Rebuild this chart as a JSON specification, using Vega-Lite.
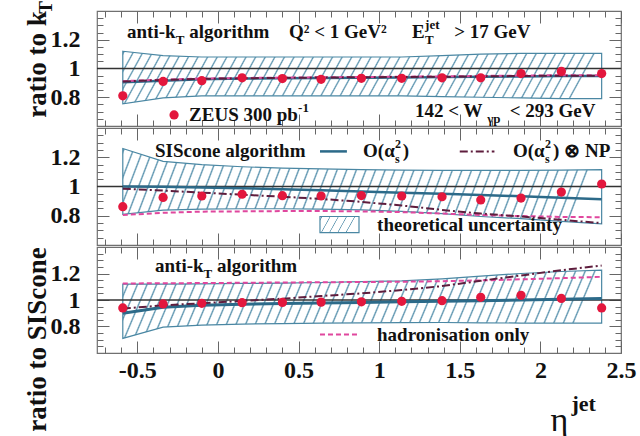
{
  "$schema": "https://vega.github.io/schema/vega-lite/v6.json",
  "padding": {"left": 22, "top": 0, "right": 2, "bottom": 2},
  "background": "white",
  "datasets": {
    "bins": [
      {"panel": 1, "eta": -0.59, "zeus": 0.81, "nlo": 0.905, "np": 0.91, "had": 0.912, "lo": 0.755, "hi": 1.12},
      {"panel": 1, "eta": -0.34, "zeus": 0.91, "nlo": 0.915, "np": 0.92, "had": 0.922, "lo": 0.795, "hi": 1.09},
      {"panel": 1, "eta": -0.10, "zeus": 0.915, "nlo": 0.925, "np": 0.928, "had": 0.93, "lo": 0.81, "hi": 1.08},
      {"panel": 1, "eta": 0.15, "zeus": 0.935, "nlo": 0.93, "np": 0.932, "had": 0.934, "lo": 0.81, "hi": 1.08},
      {"panel": 1, "eta": 0.40, "zeus": 0.93, "nlo": 0.932, "np": 0.935, "had": 0.937, "lo": 0.81, "hi": 1.08},
      {"panel": 1, "eta": 0.64, "zeus": 0.925, "nlo": 0.934, "np": 0.937, "had": 0.939, "lo": 0.81, "hi": 1.08},
      {"panel": 1, "eta": 0.89, "zeus": 0.932, "nlo": 0.936, "np": 0.939, "had": 0.941, "lo": 0.81, "hi": 1.08},
      {"panel": 1, "eta": 1.14, "zeus": 0.932, "nlo": 0.938, "np": 0.941, "had": 0.943, "lo": 0.81, "hi": 1.08},
      {"panel": 1, "eta": 1.39, "zeus": 0.935, "nlo": 0.94, "np": 0.943, "had": 0.945, "lo": 0.805, "hi": 1.09},
      {"panel": 1, "eta": 1.63, "zeus": 0.935, "nlo": 0.942, "np": 0.945, "had": 0.948, "lo": 0.80, "hi": 1.10},
      {"panel": 1, "eta": 1.88, "zeus": 0.965, "nlo": 0.945, "np": 0.948, "had": 0.951, "lo": 0.795, "hi": 1.105},
      {"panel": 1, "eta": 2.13, "zeus": 0.98, "nlo": 0.947, "np": 0.95, "had": 0.953, "lo": 0.79, "hi": 1.105},
      {"panel": 1, "eta": 2.38, "zeus": 0.965, "nlo": 0.948, "np": 0.95, "had": 0.953, "lo": 0.79, "hi": 1.105},
      {"panel": 2, "eta": -0.59, "zeus": 0.862, "nlo": 1.0, "np": 0.985, "had": 0.805, "lo": 0.81, "hi": 1.26},
      {"panel": 2, "eta": -0.34, "zeus": 0.925, "nlo": 0.998, "np": 0.972, "had": 0.82, "lo": 0.838, "hi": 1.172},
      {"panel": 2, "eta": -0.10, "zeus": 0.935, "nlo": 0.994, "np": 0.958, "had": 0.828, "lo": 0.845, "hi": 1.15},
      {"panel": 2, "eta": 0.15, "zeus": 0.947, "nlo": 0.988, "np": 0.944, "had": 0.83, "lo": 0.848, "hi": 1.135},
      {"panel": 2, "eta": 0.40, "zeus": 0.937, "nlo": 0.981, "np": 0.93, "had": 0.832, "lo": 0.848, "hi": 1.125},
      {"panel": 2, "eta": 0.64, "zeus": 0.935, "nlo": 0.974, "np": 0.915, "had": 0.832, "lo": 0.845, "hi": 1.12},
      {"panel": 2, "eta": 0.89, "zeus": 0.938, "nlo": 0.966, "np": 0.895, "had": 0.83, "lo": 0.84, "hi": 1.115},
      {"panel": 2, "eta": 1.14, "zeus": 0.935, "nlo": 0.958, "np": 0.87, "had": 0.825, "lo": 0.83, "hi": 1.112},
      {"panel": 2, "eta": 1.39, "zeus": 0.93, "nlo": 0.95, "np": 0.84, "had": 0.815, "lo": 0.815, "hi": 1.11},
      {"panel": 2, "eta": 1.63, "zeus": 0.908, "nlo": 0.942, "np": 0.815, "had": 0.805, "lo": 0.795, "hi": 1.11},
      {"panel": 2, "eta": 1.88, "zeus": 0.921, "nlo": 0.933, "np": 0.795, "had": 0.798, "lo": 0.78, "hi": 1.11},
      {"panel": 2, "eta": 2.13, "zeus": 0.962, "nlo": 0.923, "np": 0.772, "had": 0.792, "lo": 0.762, "hi": 1.112},
      {"panel": 2, "eta": 2.38, "zeus": 1.017, "nlo": 0.912, "np": 0.75, "had": 0.79, "lo": 0.745, "hi": 1.115},
      {"panel": 3, "eta": -0.59, "zeus": 0.94, "nlo": 0.9, "np": 0.935, "had": 1.125, "lo": 0.71, "hi": 1.12},
      {"panel": 3, "eta": -0.34, "zeus": 0.97, "nlo": 0.945, "np": 0.96, "had": 1.126, "lo": 0.795, "hi": 1.12},
      {"panel": 3, "eta": -0.10, "zeus": 0.975, "nlo": 0.96, "np": 0.975, "had": 1.128, "lo": 0.81, "hi": 1.122},
      {"panel": 3, "eta": 0.15, "zeus": 0.98, "nlo": 0.968, "np": 0.993, "had": 1.13, "lo": 0.818, "hi": 1.125},
      {"panel": 3, "eta": 0.40, "zeus": 0.982, "nlo": 0.974, "np": 1.01, "had": 1.132, "lo": 0.822, "hi": 1.128},
      {"panel": 3, "eta": 0.64, "zeus": 0.984, "nlo": 0.978, "np": 1.03, "had": 1.134, "lo": 0.826, "hi": 1.132},
      {"panel": 3, "eta": 0.89, "zeus": 0.986, "nlo": 0.982, "np": 1.05, "had": 1.136, "lo": 0.828, "hi": 1.138},
      {"panel": 3, "eta": 1.14, "zeus": 0.99, "nlo": 0.986, "np": 1.075, "had": 1.138, "lo": 0.83, "hi": 1.145},
      {"panel": 3, "eta": 1.39, "zeus": 0.995, "nlo": 0.99, "np": 1.105, "had": 1.142, "lo": 0.83, "hi": 1.16},
      {"panel": 3, "eta": 1.63, "zeus": 1.02, "nlo": 0.995, "np": 1.145, "had": 1.148, "lo": 0.828, "hi": 1.18},
      {"panel": 3, "eta": 1.88, "zeus": 1.035, "nlo": 1.0, "np": 1.185, "had": 1.156, "lo": 0.826, "hi": 1.2},
      {"panel": 3, "eta": 2.13, "zeus": 1.012, "nlo": 1.006, "np": 1.225, "had": 1.165, "lo": 0.826, "hi": 1.215},
      {"panel": 3, "eta": 2.38, "zeus": 0.94, "nlo": 1.012, "np": 1.26, "had": 1.175, "lo": 0.826, "hi": 1.225}
    ],
    "keys": [
      {"panel": 2, "series": "nlo", "eta": 0.633, "ratio": 1.24},
      {"panel": 2, "series": "nlo", "eta": 0.80, "ratio": 1.24},
      {"panel": 2, "series": "np", "eta": 1.50, "ratio": 1.24},
      {"panel": 2, "series": "np", "eta": 1.715, "ratio": 1.24},
      {"panel": 3, "series": "had", "eta": 0.633, "ratio": 0.74},
      {"panel": 3, "series": "had", "eta": 0.875, "ratio": 0.74}
    ],
    "dots": [{"panel": 1, "eta": -0.272, "ratio": 0.677}],
    "boxes": [{"panel": 2, "eta": 0.633, "eta2": 0.875, "top": 0.795, "bottom": 0.685}],
    "notes": [
      {"panel": 1, "kind": "main", "eta": -0.564, "ratio": 1.212, "text": "anti-k"},
      {"panel": 1, "kind": "sub", "eta": -0.262, "ratio": 1.212, "text": "T"},
      {"panel": 1, "kind": "main", "eta": -0.178, "ratio": 1.212, "text": "algorithm"},
      {"panel": 1, "kind": "main", "eta": 0.441, "ratio": 1.212, "text": "Q² < 1 GeV²"},
      {"panel": 1, "kind": "main", "eta": 1.204, "ratio": 1.212, "text": "E"},
      {"panel": 1, "kind": "sub", "eta": 1.285, "ratio": 1.212, "text": "T"},
      {"panel": 1, "kind": "sup", "eta": 1.285, "ratio": 1.212, "text": "jet"},
      {"panel": 1, "kind": "main", "eta": 1.465, "ratio": 1.212, "text": "> 17 GeV"},
      {"panel": 1, "kind": "main", "eta": -0.179, "ratio": 0.635, "text": "ZEUS 300 pb"},
      {"panel": 1, "kind": "sup", "eta": 0.497, "ratio": 0.635, "text": "-1"},
      {"panel": 1, "kind": "main", "eta": 1.223, "ratio": 0.663, "text": "142 < W"},
      {"panel": 1, "kind": "sub", "eta": 1.67, "ratio": 0.663, "text": "γp"},
      {"panel": 1, "kind": "main", "eta": 1.81, "ratio": 0.663, "text": "< 293 GeV"},
      {"panel": 2, "kind": "main", "eta": -0.39, "ratio": 1.2, "text": "SIScone algorithm"},
      {"panel": 2, "kind": "main", "eta": 0.90, "ratio": 1.2, "text": "O(α"},
      {"panel": 2, "kind": "sub", "eta": 1.098, "ratio": 1.2, "text": "s"},
      {"panel": 2, "kind": "sup", "eta": 1.098, "ratio": 1.2, "text": "2"},
      {"panel": 2, "kind": "main", "eta": 1.147, "ratio": 1.2, "text": ")"},
      {"panel": 2, "kind": "main", "eta": 1.83, "ratio": 1.2, "text": "O(α"},
      {"panel": 2, "kind": "sub", "eta": 2.029, "ratio": 1.2, "text": "s"},
      {"panel": 2, "kind": "sup", "eta": 2.029, "ratio": 1.2, "text": "2"},
      {"panel": 2, "kind": "main", "eta": 2.079, "ratio": 1.2, "text": ") ⊗ NP"},
      {"panel": 2, "kind": "main", "eta": 0.987, "ratio": 0.695, "text": "theoretical uncertainty"},
      {"panel": 3, "kind": "main", "eta": -0.39, "ratio": 1.215, "text": "anti-k"},
      {"panel": 3, "kind": "sub", "eta": -0.089, "ratio": 1.215, "text": "T"},
      {"panel": 3, "kind": "main", "eta": -0.006, "ratio": 1.215, "text": "algorithm"},
      {"panel": 3, "kind": "main", "eta": 0.987, "ratio": 0.687, "text": "hadronisation only"}
    ]
  },
  "vconcat": [
    {
      "spacing": -3,
      "vconcat": [
        {
          "width": 524, "height": 115,
          "resolve": {"axis": {"x": "independent", "y": "independent"}},
          "layer": [
            {
              "data": {"name": "bins"}, "transform": [{"filter": "datum.panel == 1"}],
              "mark": {"type": "area", "stroke": "#4a87a3", "strokeWidth": 1.2},
              "encoding": {
                "x": {"field": "eta", "type": "quantitative", "scale": {"domain": [-0.75, 2.5], "nice": false, "zero": false},
                      "axis": {"orient": "bottom", "values": [-0.5, 0, 0.5, 1, 1.5, 2, 2.5], "tickSize": -12, "labels": false, "title": null}},
                "y": {"field": "hi", "type": "quantitative", "scale": {"domain": [0.6, 1.4], "nice": false, "zero": false},
                      "axis": {"orient": "left", "values": [0.8, 1, 1.2], "ticks": false, "labelPadding": 17, "labelExpr": "'' + datum.value",
                               "title": "ratio to k", "titleFontSize": 27, "titleX": -52, "titleY": 53, "titleAngle": -90, "titleAlign": "center", "titleBaseline": "alphabetic"}},
                "y2": {"field": "lo"}
              }
            },
            {
              "data": {"values": [{"ratio": 1}]},
              "mark": {"type": "rule", "color": "#333333", "strokeWidth": 1.3},
              "encoding": {
                "y": {"field": "ratio", "type": "quantitative", "scale": {"domain": [0.6, 1.4], "nice": false, "zero": false},
                      "axis": {"orient": "left", "values": [0.8, 1, 1.2], "tickSize": -12, "labels": false, "title": null}}
              }
            },
            {
              "data": {"name": "bins"}, "transform": [{"filter": "datum.panel == 1"}],
              "mark": {"type": "line", "color": "#2c6a89", "strokeWidth": 2.5},
              "encoding": {
                "x": {"field": "eta", "type": "quantitative", "scale": {"domain": [-0.75, 2.5], "nice": false, "zero": false},
                      "axis": {"orient": "bottom", "values": [-0.7, -0.6, -0.4, -0.3, -0.2, -0.1, 0.1, 0.2, 0.3, 0.4, 0.6, 0.7, 0.8, 0.9, 1.1, 1.2, 1.3, 1.4, 1.6, 1.7, 1.8, 1.9, 2.1, 2.2, 2.3, 2.4], "tickSize": -6, "labels": false, "title": null}},
                "y": {"field": "nlo", "type": "quantitative", "scale": {"domain": [0.6, 1.4], "nice": false, "zero": false},
                      "axis": {"orient": "left", "values": [0.65, 0.7, 0.75, 0.85, 0.9, 0.95, 1.05, 1.1, 1.15, 1.25, 1.3, 1.35], "tickSize": -6, "labels": false, "title": null}}
              }
            },
            {
              "data": {"name": "bins"}, "transform": [{"filter": "datum.panel == 1"}],
              "mark": {"type": "line", "color": "#e0479e", "strokeWidth": 2, "strokeDash": [5, 3]},
              "encoding": {
                "x": {"field": "eta", "type": "quantitative", "scale": {"domain": [-0.75, 2.5], "nice": false, "zero": false},
                      "axis": {"orient": "top", "values": [-0.5, 0, 0.5, 1, 1.5, 2, 2.5], "tickSize": -12, "labels": false, "title": null}},
                "y": {"field": "had", "type": "quantitative", "scale": {"domain": [0.6, 1.4], "nice": false, "zero": false},
                      "axis": {"orient": "right", "values": [0.8, 1, 1.2], "tickSize": -12, "labels": false, "title": null}}
              }
            },
            {
              "data": {"name": "bins"}, "transform": [{"filter": "datum.panel == 1"}],
              "mark": {"type": "line", "color": "#5e1d3d", "strokeWidth": 2, "strokeDash": [8, 3, 2, 3]},
              "encoding": {
                "x": {"field": "eta", "type": "quantitative", "scale": {"domain": [-0.75, 2.5], "nice": false, "zero": false},
                      "axis": {"orient": "top", "values": [-0.7, -0.6, -0.4, -0.3, -0.2, -0.1, 0.1, 0.2, 0.3, 0.4, 0.6, 0.7, 0.8, 0.9, 1.1, 1.2, 1.3, 1.4, 1.6, 1.7, 1.8, 1.9, 2.1, 2.2, 2.3, 2.4], "tickSize": -6, "labels": false, "title": null}},
                "y": {"field": "np", "type": "quantitative", "scale": {"domain": [0.6, 1.4], "nice": false, "zero": false},
                      "axis": {"orient": "right", "values": [0.65, 0.7, 0.75, 0.85, 0.9, 0.95, 1.05, 1.1, 1.15, 1.25, 1.3, 1.35], "tickSize": -6, "labels": false, "title": null}}
              }
            },
            {
              "data": {"name": "bins"}, "transform": [{"filter": "datum.panel == 1"}],
              "mark": {"type": "point", "filled": true, "size": 85, "color": "#e3173d", "opacity": 1},
              "encoding": {
                "x": {"field": "eta", "type": "quantitative", "scale": {"domain": [-0.75, 2.5], "nice": false, "zero": false}, "axis": null},
                "y": {"field": "zeus", "type": "quantitative", "scale": {"domain": [0.6, 1.4], "nice": false, "zero": false}, "axis": null}
              }
            },
            {
              "data": {"name": "dots"},
              "mark": {"type": "point", "filled": true, "size": 85, "color": "#e3173d", "opacity": 1},
              "encoding": {
                "x": {"field": "eta", "type": "quantitative", "scale": {"domain": [-0.75, 2.5], "nice": false, "zero": false}, "axis": null},
                "y": {"field": "ratio", "type": "quantitative", "scale": {"domain": [0.6, 1.4], "nice": false, "zero": false}, "axis": null}
              }
            },
            {
              "data": {"name": "notes"}, "transform": [{"filter": "datum.panel == 1 && datum.kind == 'main'"}],
              "mark": {"type": "text", "fontSize": 19},
              "encoding": {
                "x": {"field": "eta", "type": "quantitative", "scale": {"domain": [-0.75, 2.5], "nice": false, "zero": false}, "axis": null},
                "y": {"field": "ratio", "type": "quantitative", "scale": {"domain": [0.6, 1.4], "nice": false, "zero": false}, "axis": null},
                "text": {"field": "text"}
              }
            },
            {
              "data": {"name": "notes"}, "transform": [{"filter": "datum.panel == 1 && datum.kind == 'sub'"}],
              "mark": {"type": "text", "fontSize": 13, "dy": 6},
              "encoding": {
                "x": {"field": "eta", "type": "quantitative", "scale": {"domain": [-0.75, 2.5], "nice": false, "zero": false}, "axis": null},
                "y": {"field": "ratio", "type": "quantitative", "scale": {"domain": [0.6, 1.4], "nice": false, "zero": false},
                      "axis": {"orient": "left", "labels": false, "ticks": false, "title": "T", "titleFontSize": 19, "titleX": -46, "titleY": -4, "titleAngle": -90, "titleAlign": "center", "titleBaseline": "alphabetic"}},
                "text": {"field": "text"}
              }
            },
            {
              "data": {"name": "notes"}, "transform": [{"filter": "datum.panel == 1 && datum.kind == 'sup'"}],
              "mark": {"type": "text", "fontSize": 13, "dy": -9},
              "encoding": {
                "x": {"field": "eta", "type": "quantitative", "scale": {"domain": [-0.75, 2.5], "nice": false, "zero": false}, "axis": null},
                "y": {"field": "ratio", "type": "quantitative", "scale": {"domain": [0.6, 1.4], "nice": false, "zero": false}, "axis": null},
                "text": {"field": "text"}
              }
            }
          ]
        },
        {
          "width": 524, "height": 117,
          "resolve": {"axis": {"x": "independent", "y": "independent"}},
          "layer": [
            {
              "data": {"name": "bins"}, "transform": [{"filter": "datum.panel == 2"}],
              "mark": {"type": "area", "stroke": "#4a87a3", "strokeWidth": 1.2},
              "encoding": {
                "x": {"field": "eta", "type": "quantitative", "scale": {"domain": [-0.75, 2.5], "nice": false, "zero": false},
                      "axis": {"orient": "bottom", "values": [-0.5, 0, 0.5, 1, 1.5, 2, 2.5], "tickSize": -12, "labels": false, "title": null}},
                "y": {"field": "hi", "type": "quantitative", "scale": {"domain": [0.6, 1.4], "nice": false, "zero": false},
                      "axis": {"orient": "left", "values": [0.8, 1, 1.2], "ticks": false, "labelPadding": 17, "labelExpr": "'' + datum.value", "title": null}},
                "y2": {"field": "lo"}
              }
            },
            {
              "data": {"values": [{"ratio": 1}]},
              "mark": {"type": "rule", "color": "#333333", "strokeWidth": 1.3},
              "encoding": {
                "y": {"field": "ratio", "type": "quantitative", "scale": {"domain": [0.6, 1.4], "nice": false, "zero": false},
                      "axis": {"orient": "left", "values": [0.8, 1, 1.2], "tickSize": -12, "labels": false, "title": null}}
              }
            },
            {
              "data": {"name": "bins"}, "transform": [{"filter": "datum.panel == 2"}],
              "mark": {"type": "line", "color": "#2c6a89", "strokeWidth": 2.5},
              "encoding": {
                "x": {"field": "eta", "type": "quantitative", "scale": {"domain": [-0.75, 2.5], "nice": false, "zero": false},
                      "axis": {"orient": "bottom", "values": [-0.7, -0.6, -0.4, -0.3, -0.2, -0.1, 0.1, 0.2, 0.3, 0.4, 0.6, 0.7, 0.8, 0.9, 1.1, 1.2, 1.3, 1.4, 1.6, 1.7, 1.8, 1.9, 2.1, 2.2, 2.3, 2.4], "tickSize": -6, "labels": false, "title": null}},
                "y": {"field": "nlo", "type": "quantitative", "scale": {"domain": [0.6, 1.4], "nice": false, "zero": false},
                      "axis": {"orient": "left", "values": [0.65, 0.7, 0.75, 0.85, 0.9, 0.95, 1.05, 1.1, 1.15, 1.25, 1.3, 1.35], "tickSize": -6, "labels": false, "title": null}}
              }
            },
            {
              "data": {"name": "bins"}, "transform": [{"filter": "datum.panel == 2"}],
              "mark": {"type": "line", "color": "#e0479e", "strokeWidth": 2, "strokeDash": [5, 3]},
              "encoding": {
                "x": {"field": "eta", "type": "quantitative", "scale": {"domain": [-0.75, 2.5], "nice": false, "zero": false},
                      "axis": {"orient": "top", "values": [-0.5, 0, 0.5, 1, 1.5, 2, 2.5], "tickSize": -12, "labels": false, "title": null}},
                "y": {"field": "had", "type": "quantitative", "scale": {"domain": [0.6, 1.4], "nice": false, "zero": false},
                      "axis": {"orient": "right", "values": [0.8, 1, 1.2], "tickSize": -12, "labels": false, "title": null}}
              }
            },
            {
              "data": {"name": "bins"}, "transform": [{"filter": "datum.panel == 2"}],
              "mark": {"type": "line", "color": "#5e1d3d", "strokeWidth": 2, "strokeDash": [8, 3, 2, 3]},
              "encoding": {
                "x": {"field": "eta", "type": "quantitative", "scale": {"domain": [-0.75, 2.5], "nice": false, "zero": false},
                      "axis": {"orient": "top", "values": [-0.7, -0.6, -0.4, -0.3, -0.2, -0.1, 0.1, 0.2, 0.3, 0.4, 0.6, 0.7, 0.8, 0.9, 1.1, 1.2, 1.3, 1.4, 1.6, 1.7, 1.8, 1.9, 2.1, 2.2, 2.3, 2.4], "tickSize": -6, "labels": false, "title": null}},
                "y": {"field": "np", "type": "quantitative", "scale": {"domain": [0.6, 1.4], "nice": false, "zero": false},
                      "axis": {"orient": "right", "values": [0.65, 0.7, 0.75, 0.85, 0.9, 0.95, 1.05, 1.1, 1.15, 1.25, 1.3, 1.35], "tickSize": -6, "labels": false, "title": null}}
              }
            },
            {
              "data": {"name": "keys"}, "transform": [{"filter": "datum.panel == 2 && datum.series == 'nlo'"}],
              "mark": {"type": "line", "color": "#2c6a89", "strokeWidth": 2.5},
              "encoding": {
                "x": {"field": "eta", "type": "quantitative", "scale": {"domain": [-0.75, 2.5], "nice": false, "zero": false}, "axis": null},
                "y": {"field": "ratio", "type": "quantitative", "scale": {"domain": [0.6, 1.4], "nice": false, "zero": false}, "axis": null}
              }
            },
            {
              "data": {"name": "keys"}, "transform": [{"filter": "datum.panel == 2 && datum.series == 'np'"}],
              "mark": {"type": "line", "color": "#5e1d3d", "strokeWidth": 2, "strokeDash": [8, 3, 2, 3]},
              "encoding": {
                "x": {"field": "eta", "type": "quantitative", "scale": {"domain": [-0.75, 2.5], "nice": false, "zero": false}, "axis": null},
                "y": {"field": "ratio", "type": "quantitative", "scale": {"domain": [0.6, 1.4], "nice": false, "zero": false}, "axis": null}
              }
            },
            {
              "data": {"name": "boxes"},
              "mark": {"type": "rect", "stroke": "#4a87a3", "strokeWidth": 1.2,
                       "fill": {"gradient": "linear", "x1": 0, "y1": 0, "x2": 1, "y2": 0.23, "stops": [
                         {"offset": 0.03, "color": "#ffffff"}, {"offset": 0.05, "color": "#5a93ae"}, {"offset": 0.07, "color": "#ffffff"},
                         {"offset": 0.23, "color": "#ffffff"}, {"offset": 0.25, "color": "#5a93ae"}, {"offset": 0.27, "color": "#ffffff"},
                         {"offset": 0.43, "color": "#ffffff"}, {"offset": 0.45, "color": "#5a93ae"}, {"offset": 0.47, "color": "#ffffff"},
                         {"offset": 0.63, "color": "#ffffff"}, {"offset": 0.65, "color": "#5a93ae"}, {"offset": 0.67, "color": "#ffffff"},
                         {"offset": 0.83, "color": "#ffffff"}, {"offset": 0.85, "color": "#5a93ae"}, {"offset": 0.87, "color": "#ffffff"}]}},
              "encoding": {
                "x": {"field": "eta", "type": "quantitative", "scale": {"domain": [-0.75, 2.5], "nice": false, "zero": false}, "axis": null},
                "x2": {"field": "eta2"},
                "y": {"field": "top", "type": "quantitative", "scale": {"domain": [0.6, 1.4], "nice": false, "zero": false}, "axis": null},
                "y2": {"field": "bottom"}
              }
            },
            {
              "data": {"name": "bins"}, "transform": [{"filter": "datum.panel == 2"}],
              "mark": {"type": "point", "filled": true, "size": 85, "color": "#e3173d", "opacity": 1},
              "encoding": {
                "x": {"field": "eta", "type": "quantitative", "scale": {"domain": [-0.75, 2.5], "nice": false, "zero": false}, "axis": null},
                "y": {"field": "zeus", "type": "quantitative", "scale": {"domain": [0.6, 1.4], "nice": false, "zero": false}, "axis": null}
              }
            },
            {
              "data": {"name": "notes"}, "transform": [{"filter": "datum.panel == 2 && datum.kind == 'main'"}],
              "mark": {"type": "text", "fontSize": 19},
              "encoding": {
                "x": {"field": "eta", "type": "quantitative", "scale": {"domain": [-0.75, 2.5], "nice": false, "zero": false}, "axis": null},
                "y": {"field": "ratio", "type": "quantitative", "scale": {"domain": [0.6, 1.4], "nice": false, "zero": false}, "axis": null},
                "text": {"field": "text"}
              }
            },
            {
              "data": {"name": "notes"}, "transform": [{"filter": "datum.panel == 2 && datum.kind == 'sub'"}],
              "mark": {"type": "text", "fontSize": 12, "dy": 6},
              "encoding": {
                "x": {"field": "eta", "type": "quantitative", "scale": {"domain": [-0.75, 2.5], "nice": false, "zero": false}, "axis": null},
                "y": {"field": "ratio", "type": "quantitative", "scale": {"domain": [0.6, 1.4], "nice": false, "zero": false}, "axis": null},
                "text": {"field": "text"}
              }
            },
            {
              "data": {"name": "notes"}, "transform": [{"filter": "datum.panel == 2 && datum.kind == 'sup'"}],
              "mark": {"type": "text", "fontSize": 12, "dy": -9},
              "encoding": {
                "x": {"field": "eta", "type": "quantitative", "scale": {"domain": [-0.75, 2.5], "nice": false, "zero": false}, "axis": null},
                "y": {"field": "ratio", "type": "quantitative", "scale": {"domain": [0.6, 1.4], "nice": false, "zero": false}, "axis": null},
                "text": {"field": "text"}
              }
            }
          ]
        }
      ]
    },
    {
      "width": 524, "height": 106,
      "resolve": {"axis": {"x": "independent", "y": "independent"}},
      "layer": [
        {
          "data": {"name": "bins"}, "transform": [{"filter": "datum.panel == 3"}],
          "mark": {"type": "area", "stroke": "#4a87a3", "strokeWidth": 1.2},
          "encoding": {
            "x": {"field": "eta", "type": "quantitative", "scale": {"domain": [-0.75, 2.5], "nice": false, "zero": false},
                  "axis": {"orient": "bottom", "values": [-0.5, 0, 0.5, 1, 1.5, 2, 2.5], "tickSize": -12, "labels": false, "title": null}},
            "y": {"field": "hi", "type": "quantitative", "scale": {"domain": [0.6, 1.4], "nice": false, "zero": false},
                  "axis": {"orient": "left", "values": [0.8, 1, 1.2], "ticks": false, "labelPadding": 17, "labelExpr": "'' + datum.value",
                           "title": "ratio to SIScone", "titleFontSize": 27, "titleX": -52, "titleY": 92, "titleAngle": -90, "titleAlign": "center", "titleBaseline": "alphabetic"}},
            "y2": {"field": "lo"}
          }
        },
        {
          "data": {"values": [{"ratio": 1}]},
          "mark": {"type": "rule", "color": "#333333", "strokeWidth": 1.3},
          "encoding": {
            "y": {"field": "ratio", "type": "quantitative", "scale": {"domain": [0.6, 1.4], "nice": false, "zero": false},
                  "axis": {"orient": "left", "values": [0.8, 1, 1.2], "tickSize": -12, "labels": false, "title": null}}
          }
        },
        {
          "data": {"name": "bins"}, "transform": [{"filter": "datum.panel == 3"}],
          "mark": {"type": "line", "color": "#2c6a89", "strokeWidth": 3},
          "encoding": {
            "x": {"field": "eta", "type": "quantitative", "scale": {"domain": [-0.75, 2.5], "nice": false, "zero": false},
                  "axis": {"orient": "bottom", "values": [-0.7, -0.6, -0.4, -0.3, -0.2, -0.1, 0.1, 0.2, 0.3, 0.4, 0.6, 0.7, 0.8, 0.9, 1.1, 1.2, 1.3, 1.4, 1.6, 1.7, 1.8, 1.9, 2.1, 2.2, 2.3, 2.4], "tickSize": -6, "labels": false, "title": null}},
            "y": {"field": "nlo", "type": "quantitative", "scale": {"domain": [0.6, 1.4], "nice": false, "zero": false},
                  "axis": {"orient": "left", "values": [0.65, 0.7, 0.75, 0.85, 0.9, 0.95, 1.05, 1.1, 1.15, 1.25, 1.3, 1.35], "tickSize": -6, "labels": false, "title": null}}
          }
        },
        {
          "data": {"name": "bins"}, "transform": [{"filter": "datum.panel == 3"}],
          "mark": {"type": "line", "color": "#e0479e", "strokeWidth": 2, "strokeDash": [5, 3]},
          "encoding": {
            "x": {"field": "eta", "type": "quantitative", "scale": {"domain": [-0.75, 2.5], "nice": false, "zero": false},
                  "axis": {"orient": "top", "values": [-0.5, 0, 0.5, 1, 1.5, 2, 2.5], "tickSize": -12, "labels": false, "title": null}},
            "y": {"field": "had", "type": "quantitative", "scale": {"domain": [0.6, 1.4], "nice": false, "zero": false},
                  "axis": {"orient": "right", "values": [0.8, 1, 1.2], "tickSize": -12, "labels": false, "title": null}}
          }
        },
        {
          "data": {"name": "bins"}, "transform": [{"filter": "datum.panel == 3"}],
          "mark": {"type": "line", "color": "#5e1d3d", "strokeWidth": 2, "strokeDash": [8, 3, 2, 3]},
          "encoding": {
            "x": {"field": "eta", "type": "quantitative", "scale": {"domain": [-0.75, 2.5], "nice": false, "zero": false},
                  "axis": {"orient": "top", "values": [-0.7, -0.6, -0.4, -0.3, -0.2, -0.1, 0.1, 0.2, 0.3, 0.4, 0.6, 0.7, 0.8, 0.9, 1.1, 1.2, 1.3, 1.4, 1.6, 1.7, 1.8, 1.9, 2.1, 2.2, 2.3, 2.4], "tickSize": -6, "labels": false, "title": null}},
            "y": {"field": "np", "type": "quantitative", "scale": {"domain": [0.6, 1.4], "nice": false, "zero": false},
                  "axis": {"orient": "right", "values": [0.65, 0.7, 0.75, 0.85, 0.9, 0.95, 1.05, 1.1, 1.15, 1.25, 1.3, 1.35], "tickSize": -6, "labels": false, "title": null}}
          }
        },
        {
          "data": {"name": "keys"}, "transform": [{"filter": "datum.panel == 3 && datum.series == 'had'"}],
          "mark": {"type": "line", "color": "#e0479e", "strokeWidth": 2, "strokeDash": [5, 3]},
          "encoding": {
            "x": {"field": "eta", "type": "quantitative", "scale": {"domain": [-0.75, 2.5], "nice": false, "zero": false}, "axis": null},
            "y": {"field": "ratio", "type": "quantitative", "scale": {"domain": [0.6, 1.4], "nice": false, "zero": false}, "axis": null}
          }
        },
        {
          "data": {"name": "bins"}, "transform": [{"filter": "datum.panel == 3"}],
          "mark": {"type": "point", "filled": true, "size": 85, "color": "#e3173d", "opacity": 1},
          "encoding": {
            "x": {"field": "eta", "type": "quantitative", "scale": {"domain": [-0.75, 2.5], "nice": false, "zero": false},
                  "axis": {"orient": "bottom", "values": [-0.5, 0, 0.5, 1, 1.5, 2, 2.5], "ticks": false, "labelPadding": 5, "labelExpr": "'' + datum.value",
                           "title": "η", "titleFontSize": 34, "titleFontWeight": "normal", "titleX": 453, "titleY": 77, "titleAngle": 0, "titleAlign": "left", "titleBaseline": "alphabetic"}},
            "y": {"field": "zeus", "type": "quantitative", "scale": {"domain": [0.6, 1.4], "nice": false, "zero": false}, "axis": null}
          }
        },
        {
          "data": {"name": "notes"}, "transform": [{"filter": "datum.panel == 3 && datum.kind == 'main'"}],
          "mark": {"type": "text", "fontSize": 19},
          "encoding": {
            "x": {"field": "eta", "type": "quantitative", "scale": {"domain": [-0.75, 2.5], "nice": false, "zero": false}, "axis": null},
            "y": {"field": "ratio", "type": "quantitative", "scale": {"domain": [0.6, 1.4], "nice": false, "zero": false}, "axis": null},
            "text": {"field": "text"}
          }
        },
        {
          "data": {"name": "notes"}, "transform": [{"filter": "datum.panel == 3 && datum.kind == 'sub'"}],
          "mark": {"type": "text", "fontSize": 13, "dy": 6},
          "encoding": {
            "x": {"field": "eta", "type": "quantitative", "scale": {"domain": [-0.75, 2.5], "nice": false, "zero": false},
                  "axis": {"orient": "bottom", "labels": false, "ticks": false, "title": "jet", "titleFontSize": 22, "titleX": 474, "titleY": 57, "titleAngle": 0, "titleAlign": "left", "titleBaseline": "alphabetic"}},
            "y": {"field": "ratio", "type": "quantitative", "scale": {"domain": [0.6, 1.4], "nice": false, "zero": false}, "axis": null},
            "text": {"field": "text"}
          }
        }
      ]
    }
  ],
  "spacing": -3,
  "config": {
    "view": {"stroke": "#707070", "strokeWidth": 1.2},
    "axis": {"domain": false, "grid": false, "labelFont": "Liberation Serif", "labelFontWeight": "bold", "labelFontSize": 24, "labelColor": "#111111",
             "tickColor": "#666666", "tickWidth": 1, "titleFont": "Liberation Serif", "titleFontWeight": "bold", "titleColor": "#111111",
             "minExtent": 0, "labelOverlap": false, "labelFlush": false},
    "text": {"font": "Liberation Serif", "fontWeight": "bold", "color": "#111111", "align": "left", "baseline": "alphabetic"},
    "area": {"fill": {"gradient": "linear", "x1": 0, "y1": 0, "x2": 1, "y2": 0.06, "stops": [
      {"offset": 0, "color": "#ffffff"}, {"offset": 0.003, "color": "#5a93ae"}, {"offset": 0.006, "color": "#ffffff"},
      {"offset": 0.02, "color": "#ffffff"}, {"offset": 0.023, "color": "#5a93ae"}, {"offset": 0.026, "color": "#ffffff"},
      {"offset": 0.04, "color": "#ffffff"}, {"offset": 0.043, "color": "#5a93ae"}, {"offset": 0.046, "color": "#ffffff"},
      {"offset": 0.06, "color": "#ffffff"}, {"offset": 0.063, "color": "#5a93ae"}, {"offset": 0.066, "color": "#ffffff"},
      {"offset": 0.08, "color": "#ffffff"}, {"offset": 0.083, "color": "#5a93ae"}, {"offset": 0.086, "color": "#ffffff"},
      {"offset": 0.1, "color": "#ffffff"}, {"offset": 0.103, "color": "#5a93ae"}, {"offset": 0.106, "color": "#ffffff"},
      {"offset": 0.12, "color": "#ffffff"}, {"offset": 0.123, "color": "#5a93ae"}, {"offset": 0.126, "color": "#ffffff"},
      {"offset": 0.14, "color": "#ffffff"}, {"offset": 0.143, "color": "#5a93ae"}, {"offset": 0.146, "color": "#ffffff"},
      {"offset": 0.16, "color": "#ffffff"}, {"offset": 0.163, "color": "#5a93ae"}, {"offset": 0.166, "color": "#ffffff"},
      {"offset": 0.18, "color": "#ffffff"}, {"offset": 0.183, "color": "#5a93ae"}, {"offset": 0.186, "color": "#ffffff"},
      {"offset": 0.2, "color": "#ffffff"}, {"offset": 0.203, "color": "#5a93ae"}, {"offset": 0.206, "color": "#ffffff"},
      {"offset": 0.22, "color": "#ffffff"}, {"offset": 0.223, "color": "#5a93ae"}, {"offset": 0.226, "color": "#ffffff"},
      {"offset": 0.24, "color": "#ffffff"}, {"offset": 0.243, "color": "#5a93ae"}, {"offset": 0.246, "color": "#ffffff"},
      {"offset": 0.26, "color": "#ffffff"}, {"offset": 0.263, "color": "#5a93ae"}, {"offset": 0.266, "color": "#ffffff"},
      {"offset": 0.28, "color": "#ffffff"}, {"offset": 0.283, "color": "#5a93ae"}, {"offset": 0.286, "color": "#ffffff"},
      {"offset": 0.3, "color": "#ffffff"}, {"offset": 0.303, "color": "#5a93ae"}, {"offset": 0.306, "color": "#ffffff"},
      {"offset": 0.32, "color": "#ffffff"}, {"offset": 0.323, "color": "#5a93ae"}, {"offset": 0.326, "color": "#ffffff"},
      {"offset": 0.34, "color": "#ffffff"}, {"offset": 0.343, "color": "#5a93ae"}, {"offset": 0.346, "color": "#ffffff"},
      {"offset": 0.36, "color": "#ffffff"}, {"offset": 0.363, "color": "#5a93ae"}, {"offset": 0.366, "color": "#ffffff"},
      {"offset": 0.38, "color": "#ffffff"}, {"offset": 0.383, "color": "#5a93ae"}, {"offset": 0.386, "color": "#ffffff"},
      {"offset": 0.4, "color": "#ffffff"}, {"offset": 0.403, "color": "#5a93ae"}, {"offset": 0.406, "color": "#ffffff"},
      {"offset": 0.42, "color": "#ffffff"}, {"offset": 0.423, "color": "#5a93ae"}, {"offset": 0.426, "color": "#ffffff"},
      {"offset": 0.44, "color": "#ffffff"}, {"offset": 0.443, "color": "#5a93ae"}, {"offset": 0.446, "color": "#ffffff"},
      {"offset": 0.46, "color": "#ffffff"}, {"offset": 0.463, "color": "#5a93ae"}, {"offset": 0.466, "color": "#ffffff"},
      {"offset": 0.48, "color": "#ffffff"}, {"offset": 0.483, "color": "#5a93ae"}, {"offset": 0.486, "color": "#ffffff"},
      {"offset": 0.5, "color": "#ffffff"}, {"offset": 0.503, "color": "#5a93ae"}, {"offset": 0.506, "color": "#ffffff"},
      {"offset": 0.52, "color": "#ffffff"}, {"offset": 0.523, "color": "#5a93ae"}, {"offset": 0.526, "color": "#ffffff"},
      {"offset": 0.54, "color": "#ffffff"}, {"offset": 0.543, "color": "#5a93ae"}, {"offset": 0.546, "color": "#ffffff"},
      {"offset": 0.56, "color": "#ffffff"}, {"offset": 0.563, "color": "#5a93ae"}, {"offset": 0.566, "color": "#ffffff"},
      {"offset": 0.58, "color": "#ffffff"}, {"offset": 0.583, "color": "#5a93ae"}, {"offset": 0.586, "color": "#ffffff"},
      {"offset": 0.6, "color": "#ffffff"}, {"offset": 0.603, "color": "#5a93ae"}, {"offset": 0.606, "color": "#ffffff"},
      {"offset": 0.62, "color": "#ffffff"}, {"offset": 0.623, "color": "#5a93ae"}, {"offset": 0.626, "color": "#ffffff"},
      {"offset": 0.64, "color": "#ffffff"}, {"offset": 0.643, "color": "#5a93ae"}, {"offset": 0.646, "color": "#ffffff"},
      {"offset": 0.66, "color": "#ffffff"}, {"offset": 0.663, "color": "#5a93ae"}, {"offset": 0.666, "color": "#ffffff"},
      {"offset": 0.68, "color": "#ffffff"}, {"offset": 0.683, "color": "#5a93ae"}, {"offset": 0.686, "color": "#ffffff"},
      {"offset": 0.7, "color": "#ffffff"}, {"offset": 0.703, "color": "#5a93ae"}, {"offset": 0.706, "color": "#ffffff"},
      {"offset": 0.72, "color": "#ffffff"}, {"offset": 0.723, "color": "#5a93ae"}, {"offset": 0.726, "color": "#ffffff"},
      {"offset": 0.74, "color": "#ffffff"}, {"offset": 0.743, "color": "#5a93ae"}, {"offset": 0.746, "color": "#ffffff"},
      {"offset": 0.76, "color": "#ffffff"}, {"offset": 0.763, "color": "#5a93ae"}, {"offset": 0.766, "color": "#ffffff"},
      {"offset": 0.78, "color": "#ffffff"}, {"offset": 0.783, "color": "#5a93ae"}, {"offset": 0.786, "color": "#ffffff"},
      {"offset": 0.8, "color": "#ffffff"}, {"offset": 0.803, "color": "#5a93ae"}, {"offset": 0.806, "color": "#ffffff"},
      {"offset": 0.82, "color": "#ffffff"}, {"offset": 0.823, "color": "#5a93ae"}, {"offset": 0.826, "color": "#ffffff"},
      {"offset": 0.84, "color": "#ffffff"}, {"offset": 0.843, "color": "#5a93ae"}, {"offset": 0.846, "color": "#ffffff"},
      {"offset": 0.86, "color": "#ffffff"}, {"offset": 0.863, "color": "#5a93ae"}, {"offset": 0.866, "color": "#ffffff"},
      {"offset": 0.88, "color": "#ffffff"}, {"offset": 0.883, "color": "#5a93ae"}, {"offset": 0.886, "color": "#ffffff"},
      {"offset": 0.9, "color": "#ffffff"}, {"offset": 0.903, "color": "#5a93ae"}, {"offset": 0.906, "color": "#ffffff"},
      {"offset": 0.92, "color": "#ffffff"}, {"offset": 0.923, "color": "#5a93ae"}, {"offset": 0.926, "color": "#ffffff"},
      {"offset": 0.94, "color": "#ffffff"}, {"offset": 0.943, "color": "#5a93ae"}, {"offset": 0.946, "color": "#ffffff"},
      {"offset": 0.96, "color": "#ffffff"}, {"offset": 0.963, "color": "#5a93ae"}, {"offset": 0.966, "color": "#ffffff"},
      {"offset": 0.98, "color": "#ffffff"}, {"offset": 0.983, "color": "#5a93ae"}, {"offset": 0.986, "color": "#ffffff"}
    ]}}
  }
}
